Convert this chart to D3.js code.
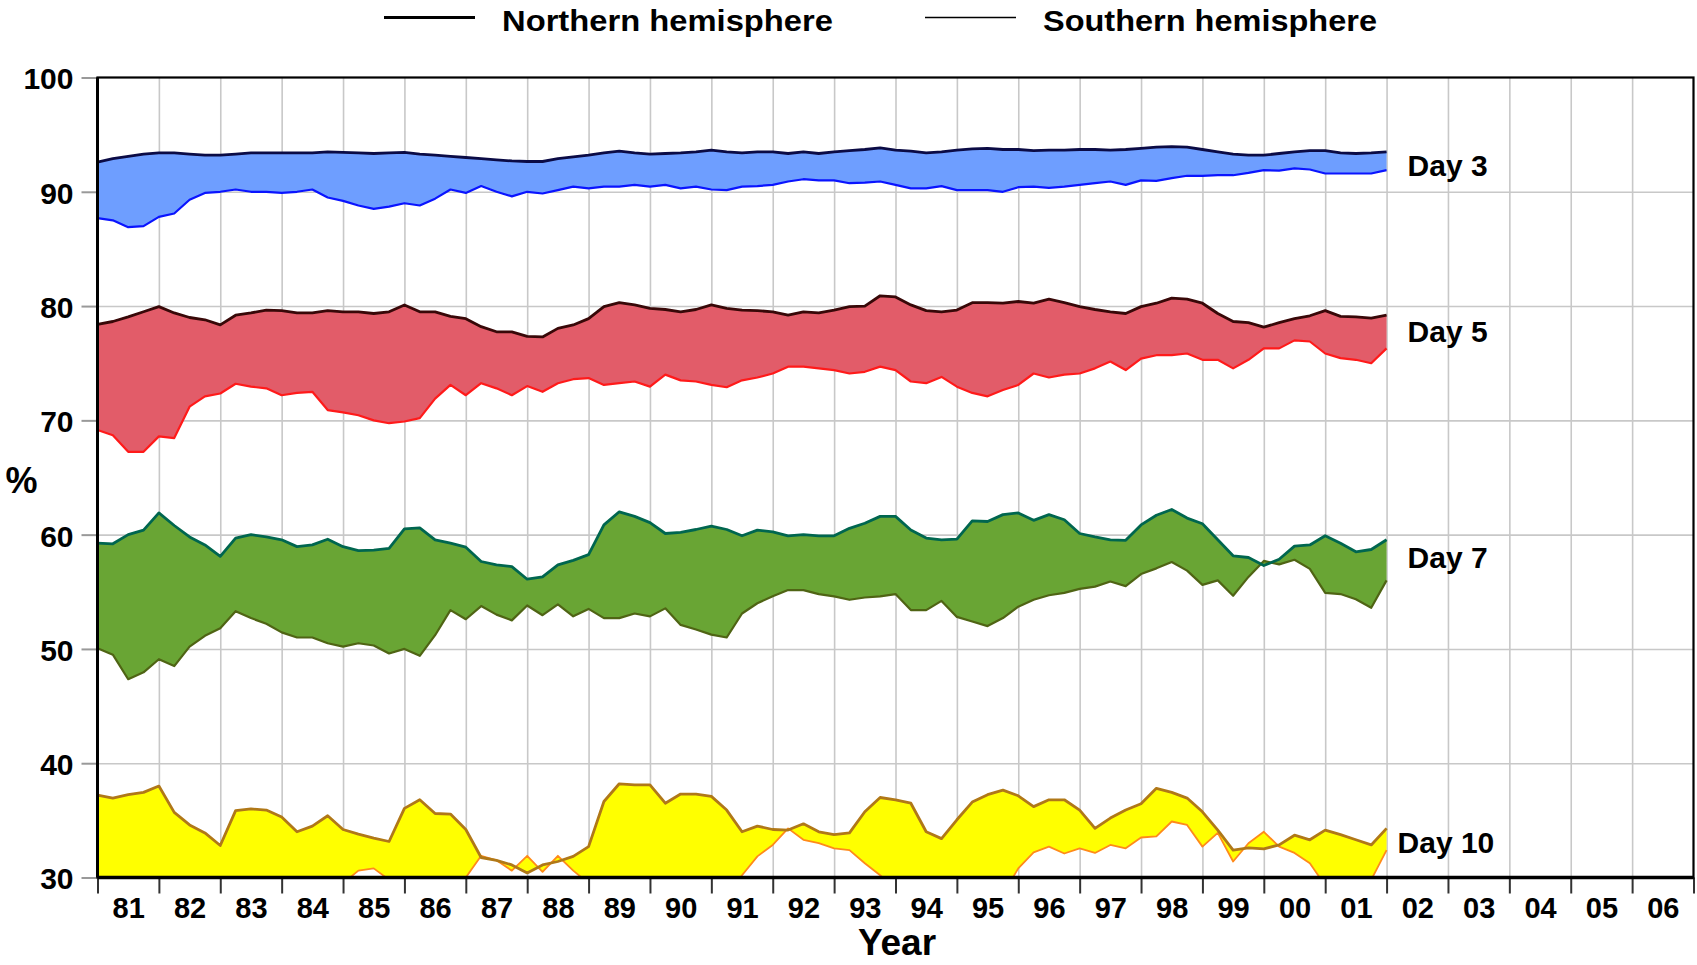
<!DOCTYPE html>
<html>
<head>
<meta charset="utf-8">
<script src="https://cdn.jsdelivr.net/npm/d3@7"></script>
<style>
body { margin: 0; background: #fff; }
svg text { font-family: "Liberation Sans", Arial, sans-serif; font-weight: bold; fill: #000; }
</style>
</head>
<body>
<div id="chart"></div>
<script>
// quarterly samples, first one at the start of 1981, last one at the start of 2002
var startYear = 1981, step = 0.25;

var day3North = [92.6, 92.9, 93.1, 93.3, 93.4, 93.4, 93.3, 93.2, 93.2, 93.3, 93.4, 93.4, 93.4, 93.4, 93.4, 93.5, 93.45, 93.4, 93.35, 93.4, 93.45, 93.3, 93.2, 93.1, 93.0, 92.9, 92.8, 92.7, 92.65,
  92.65, 92.9, 93.05, 93.2, 93.4, 93.55, 93.4, 93.3, 93.35, 93.4, 93.5, 93.65, 93.5, 93.4, 93.5, 93.5, 93.35, 93.5, 93.35, 93.5, 93.6, 93.7, 93.85, 93.65, 93.55, 93.4, 93.5, 93.65, 93.75,
  93.8, 93.7, 93.7, 93.6, 93.65, 93.65, 93.7, 93.7, 93.65, 93.7, 93.8, 93.9, 93.95, 93.9, 93.7, 93.5, 93.3, 93.2, 93.2, 93.35, 93.5, 93.6, 93.6, 93.4, 93.35, 93.4, 93.5];
var day3South = [87.7, 87.5, 86.9, 87.0, 87.8, 88.1, 89.3, 89.9, 90.0, 90.2, 90.0, 90.0, 89.9, 90.0, 90.2, 89.5, 89.2, 88.8, 88.5, 88.7, 89.0, 88.8, 89.4, 90.2, 89.9, 90.5, 90.0, 89.6, 90.0,
  89.85, 90.15, 90.45, 90.3, 90.45, 90.45, 90.6, 90.45, 90.6, 90.3, 90.45, 90.2, 90.15, 90.45, 90.5, 90.6, 90.9, 91.1, 91.0, 91.0, 90.75, 90.8, 90.9, 90.6, 90.3, 90.3, 90.5, 90.15, 90.15,
  90.15, 90.0, 90.4, 90.45, 90.35, 90.45, 90.6, 90.75, 90.9, 90.6, 91.0, 90.95, 91.2, 91.4, 91.4, 91.45, 91.45, 91.65, 91.9, 91.85, 92.05, 91.95, 91.6, 91.6, 91.6, 91.6, 91.9];

var day5North = [78.4, 78.65, 79.05, 79.5, 79.95, 79.4, 79.0, 78.8, 78.35, 79.2, 79.4, 79.65, 79.6, 79.4, 79.4, 79.6, 79.5, 79.5, 79.35, 79.5, 80.1, 79.5, 79.5, 79.1, 78.9, 78.2, 77.75, 77.75, 77.35,
  77.3, 78.05, 78.35, 78.9, 79.95, 80.3, 80.1, 79.8, 79.7, 79.5, 79.7, 80.1, 79.8, 79.65, 79.6, 79.5, 79.2, 79.5, 79.4, 79.65, 79.95, 80.0, 80.9, 80.8, 80.1, 79.6, 79.5, 79.65, 80.3,
  80.3, 80.25, 80.4, 80.25, 80.6, 80.3, 79.95, 79.7, 79.5, 79.35, 79.95, 80.25, 80.7, 80.6, 80.25, 79.35, 78.65, 78.55, 78.15, 78.55, 78.9, 79.15, 79.6, 79.1, 79.05, 78.95, 79.2];
var day5South = [69.15, 68.7, 67.25, 67.25, 68.6, 68.45, 71.2, 72.1, 72.35, 73.2, 72.95, 72.8, 72.2, 72.4, 72.5, 70.9, 70.7, 70.45, 70.0, 69.75, 69.9, 70.2, 71.9, 73.1, 72.2, 73.25, 72.8, 72.2, 73.0,
  72.5, 73.25, 73.6, 73.7, 73.1, 73.25, 73.4, 72.95, 74.0, 73.5, 73.4, 73.1, 72.9, 73.5, 73.75, 74.1, 74.7, 74.7, 74.55, 74.4, 74.1, 74.25, 74.7, 74.4, 73.4, 73.25, 73.8, 72.95, 72.4,
  72.1, 72.65, 73.1, 74.1, 73.75, 74.0, 74.1, 74.55, 75.15, 74.4, 75.4, 75.7, 75.7, 75.85, 75.3, 75.3, 74.55, 75.3, 76.3, 76.3, 77.0, 76.9, 75.85, 75.45, 75.3, 75.0, 76.3];

var day7North = [59.25, 59.2, 60.0, 60.4, 61.9, 60.8, 59.8, 59.1, 58.1, 59.7, 60.0, 59.8, 59.55, 58.95, 59.1, 59.6, 58.95, 58.6, 58.65, 58.8, 60.5, 60.6, 59.55, 59.25, 58.9, 57.65, 57.35, 57.2, 56.1,
  56.3, 57.35, 57.75, 58.25, 60.85, 62.0, 61.6, 61.05, 60.1, 60.2, 60.45, 60.75, 60.45, 59.9, 60.4, 60.25, 59.9, 60.0, 59.9, 59.9, 60.55, 61.0, 61.6, 61.6, 60.4, 59.7, 59.55, 59.6, 61.2,
  61.15, 61.75, 61.9, 61.25, 61.75, 61.3, 60.1, 59.8, 59.55, 59.5, 60.85, 61.7, 62.2, 61.45, 60.95, 59.55, 58.15, 58.0, 57.3, 57.85, 59.0, 59.1, 59.9, 59.25, 58.5, 58.7, 59.55];
var day7South = [50.05, 49.5, 47.35, 47.95, 49.1, 48.5, 50.2, 51.15, 51.8, 53.3, 52.7, 52.2, 51.45, 51.0, 51.0, 50.5, 50.2, 50.5, 50.3, 49.6, 50.0, 49.4, 51.2, 53.4, 52.6, 53.75, 53.0, 52.5, 53.8,
  52.95, 53.9, 52.85, 53.5, 52.7, 52.7, 53.1, 52.85, 53.55, 52.1, 51.7, 51.25, 51.0, 53.1, 54.0, 54.6, 55.15, 55.15, 54.8, 54.6, 54.3, 54.5, 54.6, 54.8, 53.4, 53.4, 54.2, 52.8, 52.4,
  52.0, 52.7, 53.7, 54.3, 54.7, 54.9, 55.25, 55.45, 55.9, 55.5, 56.55, 57.05, 57.6, 56.85, 55.6, 56.0, 54.65, 56.3, 57.7, 57.4, 57.8, 57.0, 54.9, 54.8, 54.35, 53.6, 56.0];

var day10North = [37.2, 36.95, 37.25, 37.45, 38.0, 35.7, 34.6, 33.9, 32.8, 35.85, 36.0, 35.9, 35.3, 34.0, 34.5, 35.4, 34.2, 33.8, 33.45, 33.15, 36.05, 36.8, 35.6, 35.55, 34.2, 31.75, 31.5, 31.1, 30.4,
  31.1, 31.4, 31.85, 32.7, 36.65, 38.2, 38.1, 38.1, 36.5, 37.3, 37.3, 37.1, 35.9, 34.0, 34.5, 34.2, 34.15, 34.7, 34.0, 33.75, 33.9, 35.75, 37.0, 36.8, 36.5, 34.0, 33.4, 35.05, 36.6,
  37.25, 37.65, 37.15, 36.2, 36.8, 36.8, 35.9, 34.3, 35.2, 35.9, 36.45, 37.8, 37.45, 36.95, 35.75, 34.15, 32.4, 32.6, 32.5, 32.85, 33.7, 33.3, 34.15, 33.75, 33.3, 32.85, 34.3];
var day10South = [28.0, 28.2, 28.5, 28.0, 27.8, 28.0, 28.5, 29.0, 29.9, 29.5, 29.0, 28.5, 28.0, 28.0, 28.5, 29.0, 29.5, 30.6, 30.8, 29.8, 28.5, 28.5, 29.0, 29.5, 30.0, 31.9, 31.5, 30.6, 31.9,
  30.5, 31.9, 30.6, 29.5, 28.5, 28.0, 28.5, 29.5, 29.5, 28.5, 28.0, 28.0, 28.5, 30.2, 31.85, 32.85, 34.3, 33.3, 33.0, 32.55, 32.4, 31.25, 30.2, 29.0, 28.5, 28.5, 28.5, 28.5, 29.0,
  28.5, 28.5, 30.8, 32.2, 32.7, 32.1, 32.55, 32.15, 32.85, 32.55, 33.5, 33.6, 34.9, 34.6, 32.7, 33.9, 31.4, 33.0, 34.0, 32.7, 32.15, 31.25, 29.3, 29.5, 29.3, 29.8, 32.4];

var yearLabels = ["81","82","83","84","85","86","87","88","89","90","91","92","93","94","95","96","97","98","99","00","01","02","03","04","05","06"];
var yTicks = [30, 40, 50, 60, 70, 80, 90, 100];
var dayLabels = ["Day 3", "Day 5", "Day 7", "Day 10"];
var dayLabelValues = [92.35, 77.8, 58.0, 33.1];
var legendLabels = ["Northern hemisphere", "Southern hemisphere"];

// colours: fill, northern line, southern line
var fillColors = ["#6e9eff", "#e25c69", "#69a534", "#ffff00"];
var northColors = ["#0b0b45", "#380808", "#00664f", "#b07818"];
var southColors = ["#0a14ff", "#ff1a1a", "#4f6414", "#ff8a1a"];

var bands = [
  {north: day3North, south: day3South},
  {north: day5North, south: day5South},
  {north: day7North, south: day7South},
  {north: day10North, south: day10South}
];

// set the dimensions and margins of the graph
var margin = {top: 77.5, right: 3.5, bottom: 87.5, left: 97.5},
    width = 1697 - margin.left - margin.right,
    height = 965 - margin.top - margin.bottom;

var root = d3.select("#chart")
  .append("svg")
    .attr("width", 1697)
    .attr("height", 965);

var svg = root.append("g")
    .attr("transform", "translate(" + margin.left + "," + margin.top + ")");

var x = d3.scaleLinear().domain([1981, 2007]).range([0, width]);
var y = d3.scaleLinear().domain([30, 100]).range([height, 0]);

// grid
svg.append("g")
  .attr("transform", "translate(0," + height + ")")
  .call(d3.axisBottom(x).tickValues(d3.range(1982, 2007)).tickSize(-height).tickFormat(""))
  .call(function(g) { g.select(".domain").remove(); })
  .selectAll("line").attr("stroke", "#c8c8c8").attr("stroke-width", 1.6);

svg.append("g")
  .call(d3.axisLeft(y).tickValues(yTicks.slice(1, -1)).tickSize(-width).tickFormat(""))
  .call(function(g) { g.select(".domain").remove(); })
  .selectAll("line").attr("stroke", "#c8c8c8").attr("stroke-width", 1.6);

// clip everything to the plot box
svg.append("clipPath").attr("id", "plotclip")
  .append("rect").attr("width", width).attr("height", height);

var plot = svg.append("g").attr("clip-path", "url(#plotclip)");

bands.forEach(function(b, k) {
  var area = d3.area()
    .x(function(d, i) { return x(startYear + i * step); })
    .y0(function(d, i) { return y(b.south[i]); })
    .y1(function(d) { return y(d); });

  plot.append("path")
    .datum(b.north)
    .attr("fill", fillColors[k])
    .attr("d", area);
});

bands.forEach(function(b, k) {
  var line = d3.line()
    .x(function(d, i) { return x(startYear + i * step); })
    .y(function(d) { return y(d); });

  plot.append("path")
    .datum(b.south)
    .attr("fill", "none")
    .attr("stroke", southColors[k])
    .attr("stroke-width", k == 3 ? 1.8 : 2.2)
    .attr("stroke-linejoin", "round")
    .attr("d", line);

  plot.append("path")
    .datum(b.north)
    .attr("fill", "none")
    .attr("stroke", northColors[k])
    .attr("stroke-width", 2.8)
    .attr("stroke-linejoin", "round")
    .attr("d", line);
});

// day labels at the end of the data
svg.selectAll(".daylabel")
  .data(dayLabels)
  .enter().append("text")
    .attr("class", "daylabel")
    .attr("x", function(d, i) { return x(2002) + (i == 3 ? 11 : 21); })
    .attr("y", function(d, i) { return y(dayLabelValues[i]); })
    .attr("dy", "0.36em")
    .style("font-size", "30px")
    .text(function(d) { return d; });

// x axis: ticks at year boundaries, labels in the middle of each year
var xTickAxis = svg.append("g")
  .attr("transform", "translate(0," + height + ")")
  .call(d3.axisBottom(x).tickValues(d3.range(1981, 2008)).tickSize(16).tickFormat(""));
xTickAxis.select(".domain").remove();
xTickAxis.selectAll("line").attr("stroke", "#333").attr("stroke-width", 2);

var xLabelAxis = svg.append("g")
  .attr("transform", "translate(0," + height + ")")
  .call(d3.axisBottom(x)
    .tickValues(d3.range(1981.5, 2007, 1))
    .tickSize(0).tickPadding(20)
    .tickFormat(function(d, i) { return yearLabels[i]; }));
xLabelAxis.select(".domain").remove();
xLabelAxis.selectAll("text").style("font-size", "29px").attr("fill", "#000");

// y axis
var yAxis = svg.append("g")
  .call(d3.axisLeft(y).tickValues(yTicks).tickSize(16).tickPadding(8));
yAxis.select(".domain").remove();
yAxis.selectAll("line").attr("stroke", "#999").attr("stroke-width", 2);
yAxis.selectAll("text").style("font-size", "30px").attr("dy", "0.38em").attr("fill", "#000");

// frame
svg.append("rect")
  .attr("width", width).attr("height", height)
  .attr("fill", "none").attr("stroke", "#000").attr("stroke-width", 2.2);
svg.append("line").attr("x1", 0).attr("x2", 0).attr("y1", 0).attr("y2", height)
  .attr("stroke", "#000").attr("stroke-width", 3);
svg.append("line").attr("x1", 0).attr("x2", width).attr("y1", height).attr("y2", height)
  .attr("stroke", "#000").attr("stroke-width", 3.5);

// axis titles
root.append("text")
  .attr("x", 897)
  .attr("y", 955)
  .style("text-anchor", "middle")
  .style("font-size", "37px")
  .text("Year");

root.append("text")
  .attr("x", 21.5)
  .attr("y", 493)
  .style("text-anchor", "middle")
  .style("font-size", "36px")
  .text("%");

// legend
var legend = root.append("g");
var legendX = [384, 925];
var legendWidths = [331, 334];
legendLabels.forEach(function(t, i) {
  legend.append("line")
    .attr("x1", legendX[i]).attr("x2", legendX[i] + 91)
    .attr("y1", 17.5).attr("y2", 17.5)
    .attr("stroke", "#000")
    .attr("stroke-width", i == 0 ? 3 : 1.6);
  legend.append("text")
    .attr("x", legendX[i] + 118)
    .attr("y", 31)
    .attr("textLength", legendWidths[i])
    .attr("lengthAdjust", "spacingAndGlyphs")
    .style("font-size", "30px")
    .text(t);
});
</script>
</body>
</html>
